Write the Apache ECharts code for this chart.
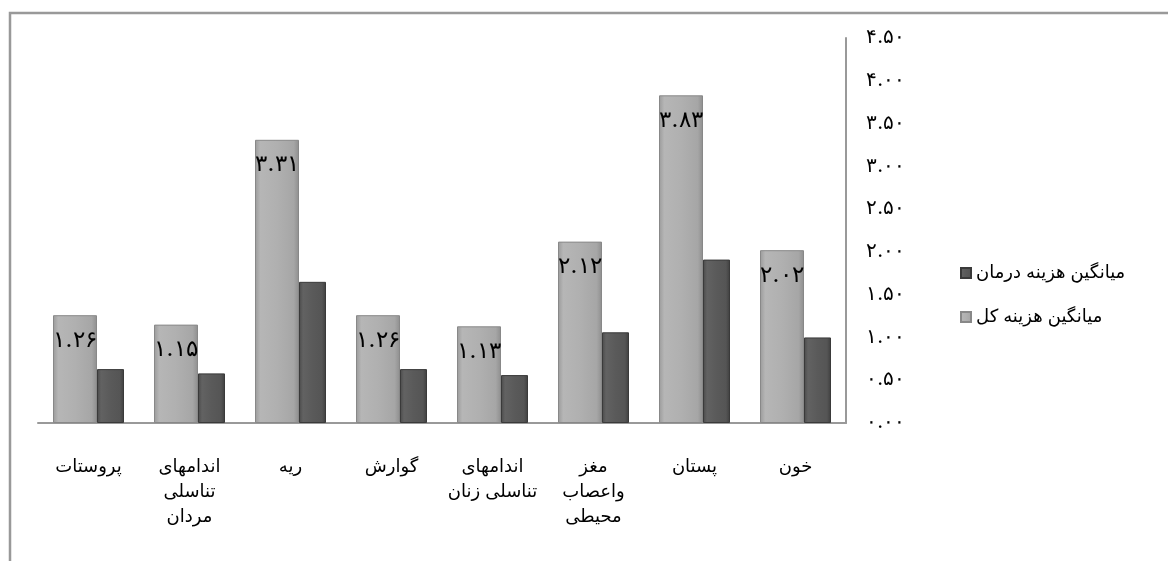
<!DOCTYPE html>
<html><head><meta charset="utf-8">
<script src="https://cdn.jsdelivr.net/npm/echarts@6/dist/echarts.min.js"></script>
<style>html,body{margin:0;padding:0;background:#fff}#c{width:1168px;height:561px}</style>
</head><body><div id="c"></div>
<script>
const categories = ['خون','پستان','مغز\nواعصاب\nمحیطی','اندامهای\nتناسلی زنان','گوارش','ریه','اندامهای\nتناسلی\nمردان','پروستات'];
const totalCost = [2.02, 3.83, 2.12, 1.13, 1.26, 3.31, 1.15, 1.26];
const treatCost = [1.00, 1.91, 1.06, 0.56, 0.63, 1.65, 0.58, 0.63];
const seriesNames = ['میانگین هزینه کل','میانگین هزینه درمان'];
const legendOrder = ['میانگین هزینه درمان','میانگین هزینه کل'];

const fa = s => String(s).replace(/[0-9]/g, d => '۰۱۲۳۴۵۶۷۸۹'[d]);
const chart = echarts.init(document.getElementById('c'));
const lightGrad = new echarts.graphic.LinearGradient(0,0,1,0,[
  {offset:0,color:'#9a9a9a'},{offset:0.12,color:'#b6b6b6'},{offset:0.5,color:'#b0b0b0'},{offset:0.88,color:'#a6a6a6'},{offset:1,color:'#8e8e8e'}]);
const darkGrad = new echarts.graphic.LinearGradient(0,0,1,0,[
  {offset:0,color:'#4a4a4a'},{offset:0.15,color:'#626262'},{offset:0.5,color:'#5a5a5a'},{offset:0.85,color:'#555'},{offset:1,color:'#3e3e3e'}]);
const sansFont = 'Arial, "DejaVu Sans", sans-serif';
chart.setOption({
  animation:false,
  graphic:[{type:'rect',shape:{x:10,y:13,width:1200,height:600},style:{fill:'none',stroke:'#999',lineWidth:2.5}}],
  grid:{left:38,right:322,top:38,bottom:138},
  legend:{orient:'vertical',left:955,top:259,itemGap:26,itemWidth:10,itemHeight:10,icon:'rect',
    data:legendOrder,textStyle:{fontSize:18,color:'#000',fontFamily:sansFont}},
  xAxis:{type:'category',data:categories,inverse:true,
    axisLine:{lineStyle:{color:'#999',width:2}},axisTick:{show:false},
    axisLabel:{interval:0,margin:32,fontSize:18,lineHeight:25,color:'#000',fontFamily:sansFont}},
  yAxis:{type:'value',position:'right',min:0,max:4.5,interval:0.5,
    axisLine:{show:true,lineStyle:{color:'#999',width:2}},axisTick:{show:false},splitLine:{show:false},
    axisLabel:{margin:20,fontSize:20,color:'#000',fontFamily:'"DejaVu Serif", serif',formatter:v=>fa(v.toFixed(2))}},
  series:[
    {name:seriesNames[0],type:'bar',data:totalCost,barWidth:44,barGap:'0%',
      itemStyle:{color:lightGrad,borderColor:'#888',borderWidth:1},
      label:{show:true,position:'insideTop',distance:14,fontSize:23,color:'#000',fontFamily:'"DejaVu Serif", serif',
        formatter:p=>fa(p.value.toFixed(2))}},
    {name:seriesNames[1],type:'bar',data:treatCost,barWidth:27,barGap:'0%',
      itemStyle:{color:darkGrad,borderColor:'#3a3a3a',borderWidth:1}}
  ]
});
</script></body></html>
